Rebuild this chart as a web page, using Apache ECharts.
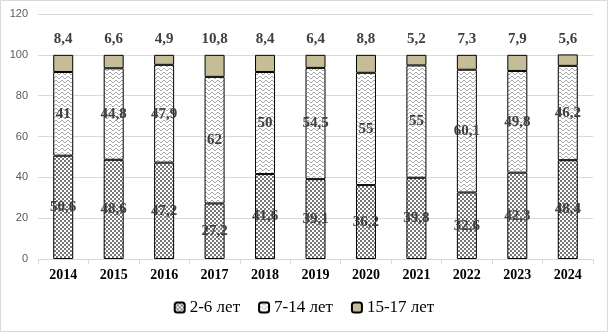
<!DOCTYPE html>
<html>
<head>
<meta charset="utf-8">
<script src="https://cdn.jsdelivr.net/npm/echarts@6/dist/echarts.min.js"></script>
<style>
  html, body { margin: 0; padding: 0; background: #fff; }
  #main { width: 608px; height: 332px; }
</style>
</head>
<body>
<div id="main"></div>
<script>
var years = ['2014', '2015', '2016', '2017', '2018', '2019', '2020', '2021', '2022', '2023', '2024'];
var age2to6 = [50.6, 48.6, 47.2, 27.2, 41.6, 39.1, 36.2, 39.8, 32.6, 42.3, 48.4];
var age7to14 = [41, 44.8, 47.9, 62, 50, 54.5, 55, 55, 60.1, 49.8, 46.2];
var age15to17 = [8.4, 6.6, 4.9, 10.8, 8.4, 6.4, 8.8, 5.2, 7.3, 7.9, 5.6];
var seriesNames = ['2-6 лет', '7-14 лет', '15-17 лет'];

// узоры заливки как в Excel
function checkerPattern() {
    var c = document.createElement('canvas');
    c.width = 4; c.height = 4;
    var ctx = c.getContext('2d');
    ctx.fillStyle = '#fff';
    ctx.fillRect(0, 0, 4, 4);
    ctx.fillStyle = '#777';
    ctx.fillRect(0, 0, 2, 2);
    ctx.fillRect(2, 2, 2, 2);
    return c;
}

function wavePattern() {
    var c = document.createElement('canvas');
    c.width = 6; c.height = 4;
    var ctx = c.getContext('2d');
    ctx.fillStyle = '#fff';
    ctx.fillRect(0, 0, 6, 4);
    ctx.fillStyle = '#a8a8a8';
    var ys = [1, 0, 0, 1, 2, 2];
    for (var x = 0; x < 6; x++) {
        ctx.fillRect(x, ys[x], 1, 1);
    }
    return c;
}

function fmt(p) {
    return String(p.value).replace('.', ',');
}

var labelStyle = {
    show: true,
    formatter: fmt,
    fontFamily: 'Liberation Serif',
    fontWeight: 'bold',
    fontSize: 15,
    color: '#404040'
};

var myChart = echarts.init(document.getElementById('main'));

var option = {
    animation: false,
    textStyle: { fontFamily: 'Liberation Serif' },
    graphic: [{
        type: 'rect',
        shape: { x: 0.5, y: 0.5, width: 607, height: 331 },
        style: { fill: 'none', stroke: '#d9d9d9', lineWidth: 1 },
        silent: true
    }],
    grid: { left: 38, right: 15, top: 14, bottom: 73 },
    legend: {
        data: seriesNames,
        bottom: 11,
        left: 'center',
        itemWidth: 10,
        itemHeight: 10,
        itemGap: 18,
        textStyle: { fontFamily: 'Liberation Serif', fontSize: 17, color: '#000' }
    },
    xAxis: {
        type: 'category',
        data: years,
        axisLine: { lineStyle: { color: '#d9d9d9' } },
        axisTick: { show: true, length: 5, lineStyle: { color: '#d9d9d9' } },
        axisLabel: {
            fontFamily: 'Liberation Serif',
            fontWeight: 'bold',
            fontSize: 14,
            color: '#000',
            margin: 9
        }
    },
    yAxis: {
        type: 'value',
        min: 0,
        max: 120,
        interval: 20,
        axisLine: { show: false },
        axisTick: { show: false },
        splitLine: { lineStyle: { color: '#d9d9d9' } },
        axisLabel: {
            fontFamily: 'Liberation Sans',
            fontSize: 11,
            color: '#595959',
            margin: 10
        }
    },
    series: [{
        name: seriesNames[0],
        type: 'bar',
        stack: 'all',
        barWidth: 20,
        data: age2to6,
        itemStyle: {
            color: { image: checkerPattern(), repeat: 'repeat' },
            borderColor: '#000',
            borderWidth: 1
        },
        label: Object.assign({}, labelStyle, { position: 'inside' })
    }, {
        name: seriesNames[1],
        type: 'bar',
        stack: 'all',
        barWidth: 20,
        data: age7to14,
        itemStyle: {
            color: { image: wavePattern(), repeat: 'repeat' },
            borderColor: '#000',
            borderWidth: 1
        },
        label: Object.assign({}, labelStyle, { position: 'inside' })
    }, {
        name: seriesNames[2],
        type: 'bar',
        stack: 'all',
        barWidth: 20,
        data: age15to17,
        itemStyle: {
            color: '#c4bd97',
            borderColor: '#000',
            borderWidth: 1
        },
        label: Object.assign({}, labelStyle, { position: 'top', distance: 8 })
    }]
};

myChart.setOption(option);
</script>
</body>
</html>
